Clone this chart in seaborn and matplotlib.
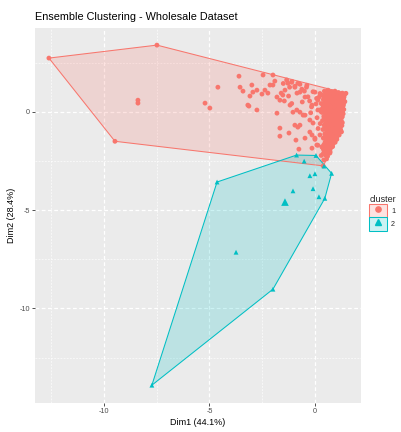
import numpy as np
import pandas as pd
import seaborn as sns
import matplotlib
matplotlib.use("Agg")
import matplotlib.pyplot as plt
from matplotlib.patches import Patch, Polygon
from matplotlib.lines import Line2D

# ---------------- data ----------------
c1_sparse_x = [-12.61, -7.49, -9.48, -8.39, -8.39, -5.21, -4.98, -4.60, -3.60, -2.46, -1.99,
               -3.55, -3.41, -2.99, -2.94, -3.08, -3.18, -3.13, -2.75, -2.75, -2.51, -2.37,
               -2.23, -2.13, -1.99, -1.90, -1.80, -1.66, -1.66, -1.23, -0.95, -0.81, -0.71,
               -0.76, -1.80, -1.66, -1.52, -1.42, -1.28, -1.09, -0.95, -0.85, -0.71, -0.62,
               -0.47, -0.38, -1.18, -1.04, -0.71, -0.47, -0.24, -0.14, 0.00, 0.14, 0.24,
               -0.24, 0.00, 0.14, -0.14, -0.47, -0.90, 1.47, 1.26, 0.39]
c1_sparse_y = [2.73, 3.39, -1.50, 0.59, 0.44, 0.44, 0.19, 1.25, 1.81, 1.87, 1.87,
               1.25, 1.05, 1.36, 1.00, 0.80, 0.34, 0.29, 0.09, 1.10, 0.90, 1.10,
               0.95, 1.36, 1.36, 1.56, -0.07, -0.83, -1.24, -1.08, -0.68, -0.78, -0.68,
               -1.90, 0.75, 0.59, 0.85, 1.10, 1.45, 1.55, 1.30, 0.95, 1.40, 1.15,
               0.75, 1.35, 0.34, -0.02, -0.02, -0.17, -0.42, 0.34, 1.00, 0.59, 0.09,
               -1.03, -1.34, -1.70, -1.85, -1.34, -1.44, 0.94, -1.02, -2.75]

c1_mid_x = [-1.50, -1.34, -1.10, -0.81, -0.95, -0.71, -0.40, -0.33, -0.09, 0.08, 0.24,
            -1.10, -0.86, -0.56, -0.16, 0.14, -1.60, -1.45, -1.25, -1.20, -0.60, -0.50,
            -0.25, -0.20, 0.05, 0.10, 0.20, -0.09, -0.14, 0.09, 0.33, 0.24, 0.71, 0.15,
            0.00, 0.25]
c1_mid_y = [1.44, 1.62, 1.50, 1.45, 1.25, 1.00, 1.25, 0.76, 1.02, 0.68, 0.93,
            0.42, 0.09, -0.17, 0.25, 0.09, 0.95, 0.55, 0.80, 1.25, 0.50, 1.05,
            0.55, -0.05, 0.40, -0.30, 0.75, -0.57, -1.18, -1.69, -1.79, -1.18, -2.10, -0.85,
            -1.40, -0.60]

c1_core_x = [0.45, 0.62, 0.80, 0.95, 1.12, 1.30, 1.42,
             0.35, 0.52, 0.70, 0.88, 1.05, 1.22, 1.38,
             0.40, 0.58, 0.76, 0.93, 1.10, 1.27, 1.42,
             0.30, 0.48, 0.66, 0.84, 1.01, 1.18, 1.35,
             0.38, 0.55, 0.73, 0.90, 1.08, 1.25, 1.37,
             0.33, 0.50, 0.68, 0.86, 1.03, 1.20, 1.34,
             0.42, 0.60, 0.78, 0.95, 1.13, 1.30,
             0.36, 0.54, 0.71, 0.89, 1.06, 1.24, 1.30,
             0.44, 0.62, 0.80, 0.97, 1.15, 1.28,
             0.38, 0.56, 0.74, 0.91, 1.08, 1.22,
             0.47, 0.65, 0.83, 1.00, 1.15,
             0.40, 0.58, 0.76, 0.93, 1.04,
             0.48, 0.66, 0.84, 0.96,
             0.35, 0.53, 0.71, 0.84,
             0.44, 0.62, 0.72,
             0.30, 0.50, 0.60,
             0.42, 0.55,
             0.54, 0.71, 0.88, 1.04, 1.21, 1.36,
             0.44, 0.61, 0.79, 0.97, 1.14, 1.32,
             0.49, 0.67, 0.85, 1.02, 1.19, 1.37,
             0.39, 0.57, 0.75, 0.93, 1.10, 1.29,
             0.46, 0.63, 0.81, 0.99, 1.16, 1.31,
             0.51, 0.69, 0.87, 1.04, 1.22,
             0.45, 0.63, 0.81, 0.99, 1.18,
             0.53, 0.71, 0.88, 1.05, 1.20,
             0.47, 0.65, 0.83, 1.00, 1.15,
             0.56, 0.74, 0.92, 1.08,
             0.50, 0.68, 0.86, 1.02,
             0.52, 0.70, 0.88,
             0.43, 0.61, 0.79,
             0.40, 0.55, 0.70,
             0.40, 0.58]
c1_core_y = [1.05, 1.10, 1.02, 1.05, 0.98, 0.95, 0.90,
             0.85, 0.88, 0.80, 0.84, 0.78, 0.82, 0.75,
             0.62, 0.66, 0.58, 0.63, 0.55, 0.60, 0.52,
             0.42, 0.45, 0.38, 0.44, 0.36, 0.40, 0.33,
             0.20, 0.24, 0.16, 0.22, 0.14, 0.18, 0.12,
             -0.02, 0.02, -0.05, 0.00, -0.08, -0.03, -0.10,
             -0.24, -0.20, -0.27, -0.22, -0.30, -0.25,
             -0.45, -0.42, -0.49, -0.44, -0.52, -0.47, -0.55,
             -0.68, -0.64, -0.71, -0.66, -0.74, -0.70,
             -0.90, -0.86, -0.93, -0.88, -0.96, -0.92,
             -1.12, -1.08, -1.15, -1.10, -1.18,
             -1.34, -1.30, -1.37, -1.32, -1.40,
             -1.56, -1.52, -1.59, -1.55,
             -1.78, -1.74, -1.81, -1.77,
             -2.00, -1.96, -2.03,
             -2.22, -2.20, -2.26,
             -2.45, -2.40,
             0.97, 0.95, 0.93, 0.92, 0.88, 0.85,
             0.74, 0.72, 0.70, 0.71, 0.67, 0.66,
             0.53, 0.51, 0.50, 0.47, 0.49, 0.45,
             0.31, 0.33, 0.28, 0.30, 0.26, 0.28,
             0.09, 0.08, 0.06, 0.05, 0.04, 0.03,
             -0.12, -0.14, -0.12, -0.17, -0.16,
             -0.34, -0.33, -0.36, -0.36, -0.39,
             -0.57, -0.60, -0.56, -0.62, -0.60,
             -0.80, -0.78, -0.82, -0.80, -0.85,
             -1.00, -1.03, -1.00, -1.05,
             -1.23, -1.20, -1.25, -1.28,
             -1.45, -1.42, -1.47,
             -1.67, -1.64, -1.70,
             -1.90, -1.87, -1.92,
             -2.12, -2.10]

c2_x = [-7.73, -4.64, -3.74, -1.99, -1.04, -0.87, -0.51, -0.24, 0.00, -0.09, 0.19, 0.47, 0.79, 0.05, 0.43]
c2_y = [-13.90, -3.57, -7.14, -9.02, -4.02, -2.20, -2.51, -3.25, -3.15, -3.91, -4.32, -4.40, -3.13, -2.22, -2.76]

center_x = [0.35, -1.42]
center_y = [0.05, -4.59]
clusters = ["1", "2"]

colors = {"1": "#F8766D", "2": "#00BFC4"}
markers = {"1": "o", "2": "^"}

c1x = c1_sparse_x + c1_mid_x + c1_core_x
c1y = c1_sparse_y + c1_mid_y + c1_core_y
df = pd.DataFrame({
    "Dim1": c1x + c2_x,
    "Dim2": c1y + c2_y,
    "cluster": ["1"] * len(c1x) + ["2"] * len(c2_x),
})
centers = pd.DataFrame({"Dim1": center_x, "Dim2": center_y, "cluster": clusters})


def hull(points):
    pts = sorted(set(points))
    def cross(o, a, b):
        return (a[0] - o[0]) * (b[1] - o[1]) - (a[1] - o[1]) * (b[0] - o[0])
    lower, upper = [], []
    for p in pts:
        while len(lower) >= 2 and cross(lower[-2], lower[-1], p) <= 0:
            lower.pop()
        lower.append(p)
    for p in reversed(pts):
        while len(upper) >= 2 and cross(upper[-2], upper[-1], p) <= 0:
            upper.pop()
        upper.append(p)
    return lower[:-1] + upper[:-1]


# ---------------- figure ----------------
sns.set_theme(style="darkgrid")
plt.rcParams["font.family"] = ["Liberation Sans", "DejaVu Sans"]
fig = plt.figure(figsize=(4.02, 4.32), dpi=100)
ax = fig.add_axes([35 / 402, 1 - 402.7 / 432, (360.7 - 35) / 402, (402.7 - 28) / 432])
ax.set_facecolor("#EBEBEB")
for s in ax.spines.values():
    s.set_visible(False)

for cl in clusters:
    sub = df[df.cluster == cl]
    h = hull(list(zip(sub.Dim1, sub.Dim2)))
    ax.add_patch(Polygon(h, closed=True, facecolor=colors[cl], alpha=0.2, edgecolor="none", zorder=1))
    ax.add_patch(Polygon(h, closed=True, facecolor="none", edgecolor=colors[cl], lw=0.75, zorder=2))

sns.scatterplot(data=df, x="Dim1", y="Dim2", hue="cluster", style="cluster",
                palette=colors, markers=markers, s=12, linewidth=0, legend=False, ax=ax, zorder=3)
sns.scatterplot(data=centers, x="Dim1", y="Dim2", hue="cluster", style="cluster",
                palette=colors, markers=markers, s=30, linewidth=0, legend=False, ax=ax, zorder=4)

ax.set_xlim(-13.27, 2.17)
ax.set_ylim(-14.79, 4.26)
ax.set_xticks([-10, -5, 0])
ax.set_yticks([0, -5, -10])
ax.set_xticks([-12.5, -7.5, -2.5], minor=True)
ax.set_yticks([2.5, -2.5, -7.5, -12.5], minor=True)
ax.grid(which="major", color="white", lw=0.9, ls=(0, (3, 2)))
ax.grid(which="minor", color="white", lw=0.45, ls=(0, (3, 2)))
ax.set_axisbelow(True)
ax.tick_params(which="major", length=2.2, width=0.6, color="#333333", labelsize=5.2,
               labelcolor="#4D4D4D", pad=1.5, bottom=True, left=True)
ax.tick_params(which="minor", length=0, bottom=False, left=False)
ax.set_xticklabels(["-10", "-5", "0"])
ax.set_yticklabels(["0", "-5", "-10"])
ax.set_xlabel("Dim1 (44.1%)", fontsize=6.5, color="black", labelpad=2.5)
ax.set_ylabel("Dim2 (28.4%)", fontsize=6.5, color="black", labelpad=2.5)
fig.text(35 / 402, 1 - 17 / 432, "Ensemble Clustering - Wholesale Dataset", fontsize=7.8,
         color="black", ha="left", va="center")

handles = [(Patch(facecolor=colors[c], alpha=0.2, edgecolor="none"),
            Patch(facecolor="none", edgecolor=colors[c], lw=0.75),
            Line2D([], [], marker=markers[c], color=colors[c], ls="none", markersize=3.8))
           for c in clusters]
leg = fig.legend(handles, clusters, title="cluster", loc="upper left",
                 bbox_to_anchor=(368 / 402, 1 - 194 / 432), frameon=False,
                 fontsize=5.2, title_fontsize=6.5, handlelength=2.4, handleheight=2.4,
                 labelspacing=0.0, handletextpad=0.6, borderaxespad=0, borderpad=0.2)
leg._legend_box.align = "left"

fig.savefig("out.png", dpi=100)
